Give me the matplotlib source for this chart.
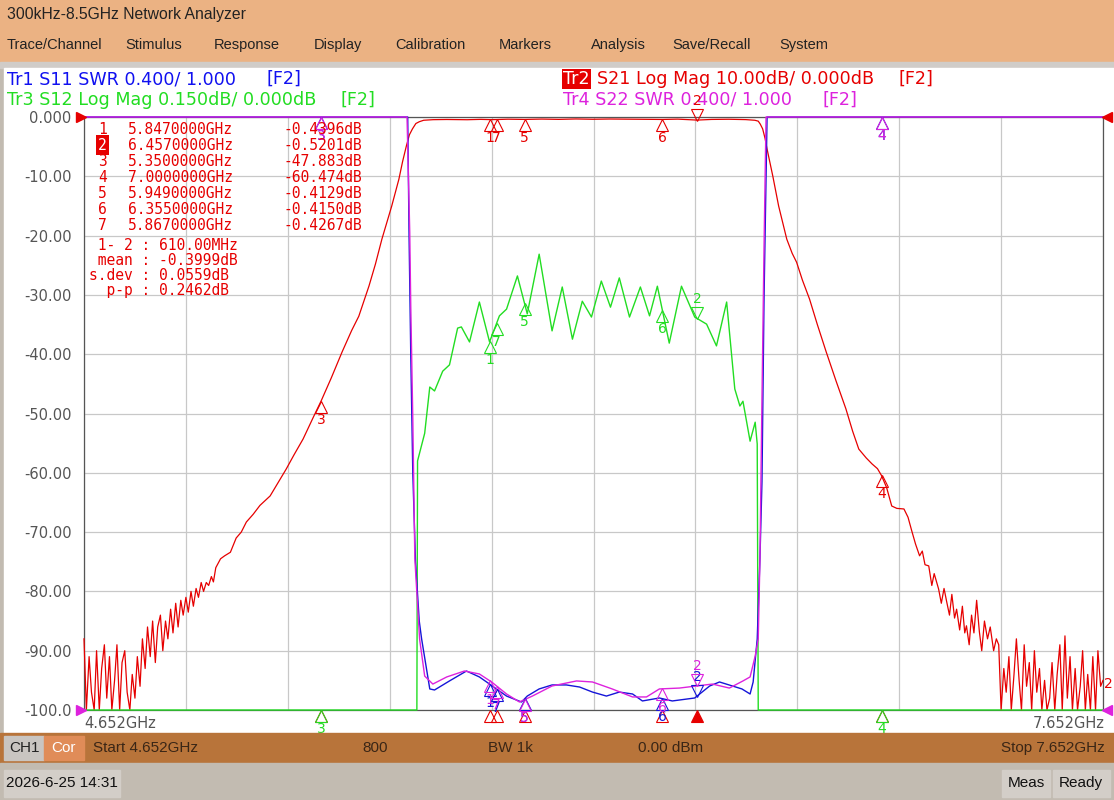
import numpy as np
import matplotlib
matplotlib.use('Agg')
import matplotlib.pyplot as plt
from matplotlib.patches import Rectangle
from matplotlib.transforms import offset_copy

W, H = 1114, 800

# ---- trace data (GHz) ----
s21_f = [4.652, 4.659, 4.667, 4.674, 4.682, 4.689, 4.697, 4.704, 4.712, 4.719,
         4.727, 4.734, 4.742, 4.749, 4.757, 4.764, 4.772, 4.779, 4.787, 4.794,
         4.802, 4.809, 4.817, 4.824, 4.832, 4.839, 4.847, 4.854, 4.862, 4.869,
         4.877, 4.884, 4.892, 4.899, 4.907, 4.914, 4.922, 4.929, 4.937, 4.944,
         4.952, 4.959, 4.967, 4.974, 4.982, 4.989, 4.997, 5.004, 5.012, 5.019,
         5.027, 5.033, 5.040, 5.054, 5.066, 5.083, 5.100, 5.115, 5.130, 5.150,
         5.170, 5.200, 5.225, 5.247, 5.270, 5.297, 5.329, 5.350, 5.380, 5.412,
         5.440, 5.461, 5.491, 5.510, 5.529, 5.545, 5.558, 5.579, 5.590, 5.601,
         5.610, 5.619, 5.629, 5.639, 5.652, 5.680, 5.720, 5.780, 5.820, 5.847,
         5.867, 5.900, 5.949, 6.000, 6.050, 6.100, 6.150, 6.200, 6.250, 6.300,
         6.355, 6.400, 6.457, 6.500, 6.550, 6.600, 6.627, 6.637, 6.643, 6.650,
         6.657, 6.663, 6.671, 6.680, 6.697, 6.721, 6.737, 6.750, 6.767, 6.788,
         6.811, 6.837, 6.866, 6.895, 6.915, 6.933, 6.955, 6.972, 6.988, 7.000,
         7.015, 7.030, 7.045, 7.066, 7.078, 7.089, 7.100, 7.112, 7.120, 7.128,
         7.139, 7.148, 7.155, 7.168, 7.176, 7.184, 7.192, 7.200, 7.207, 7.215,
         7.221, 7.230, 7.238, 7.245, 7.250, 7.258, 7.265, 7.272, 7.280, 7.288,
         7.295, 7.303, 7.312, 7.320, 7.330, 7.338, 7.345, 7.352, 7.360, 7.367,
         7.375, 7.382, 7.390, 7.397, 7.405, 7.412, 7.420, 7.427, 7.435, 7.442,
         7.450, 7.457, 7.465, 7.472, 7.480, 7.487, 7.495, 7.502, 7.510, 7.517,
         7.525, 7.532, 7.540, 7.547, 7.555, 7.562, 7.570, 7.577, 7.585, 7.592,
         7.600, 7.607, 7.615, 7.622, 7.630, 7.637, 7.645, 7.652]
s21_db = [-88, -100, -91, -97, -100, -90, -100, -93, -89, -98,
          -91, -100, -95, -89, -100, -92, -90, -97, -100, -94,
          -98, -91, -96, -88, -93, -86, -91, -85, -92, -86,
          -84, -90, -85, -88, -83, -87, -82, -86, -81.5, -84,
          -81, -83.5, -80, -82.5, -79.5, -81, -78.5, -80, -78.5, -79,
          -77.5, -78.4, -76, -74.5, -74, -73.4, -71, -70, -68.3, -67,
          -65.5, -63.9, -61.5, -59.4, -57, -54.3, -50.4, -47.9, -44, -39.6,
          -36, -33.6, -28.5, -24.8, -20.6, -17.5, -15, -10.5, -7.5, -4.9,
          -3, -2, -1.1, -0.8, -0.55, -0.45, -0.42, -0.46, -0.40, -0.44,
          -0.43, -0.37, -0.41, -0.35, -0.40, -0.33, -0.38, -0.34, -0.37, -0.40,
          -0.415, -0.36, -0.52, -0.41, -0.38, -0.44, -0.55, -0.7, -1.2, -2.0,
          -3.6, -5.4, -7.6, -10, -15, -20.6, -23, -24.5, -27.5, -30.7,
          -35, -39.6, -44.5, -49.2, -53, -56, -57.5, -58.5, -59.3, -60.47,
          -62.5, -65.6, -66, -66.1, -67.5, -69.8, -72, -74, -73.2, -75.5,
          -75.7, -79, -77, -79.6, -82, -79.5, -81.8, -84, -80.5, -84.5,
          -83, -86.5, -82.5, -87, -85.8, -89, -84, -87, -81.5, -86.8,
          -90, -85, -88, -86, -90, -88, -89, -100, -93, -97,
          -91, -100, -94, -88, -95, -100, -89, -96, -92, -100,
          -90, -97, -93, -100, -95, -100, -98, -92, -100, -94,
          -89, -100, -87.5, -98, -91, -100, -93, -100, -96, -90,
          -100, -94, -100, -91, -100, -90, -96, -95]

s12_f = [4.652, 5.632, 5.634, 5.655, 5.670, 5.684, 5.708, 5.728, 5.752, 5.763,
         5.787, 5.816, 5.846, 5.875, 5.896, 5.928, 5.957, 5.992, 6.030, 6.060,
         6.090, 6.119, 6.146, 6.175, 6.202, 6.228, 6.258, 6.290, 6.317, 6.340,
         6.375, 6.411, 6.450, 6.485, 6.514, 6.544, 6.568, 6.583, 6.592, 6.613,
         6.628, 6.634, 6.637, 7.652]
s12_db = [-1.5, -1.5, -0.87, -0.80, -0.683, -0.693, -0.643, -0.627, -0.534, -0.531,
          -0.569, -0.468, -0.569, -0.503, -0.486, -0.402, -0.498, -0.347, -0.541, -0.430,
          -0.562, -0.466, -0.506, -0.415, -0.481, -0.407, -0.506, -0.430, -0.503, -0.428,
          -0.572, -0.428, -0.506, -0.524, -0.579, -0.468, -0.688, -0.731, -0.719, -0.820,
          -0.772, -0.827, -1.5, -1.5]

s11_f = [4.652, 5.605, 5.609, 5.614, 5.620, 5.628, 5.639, 5.646, 5.670, 5.684,
         5.728, 5.778, 5.816, 5.846, 5.896, 5.940, 5.957, 5.992, 6.030, 6.072,
         6.111, 6.149, 6.190, 6.228, 6.267, 6.296, 6.346, 6.384, 6.450, 6.494,
         6.523, 6.561, 6.589, 6.613, 6.622, 6.634, 6.642, 6.648, 6.654, 6.663,
         7.652]
s11_swr = [5.0, 5.0, 4.2, 3.4, 2.6, 2.0, 1.6, 1.479, 1.142, 1.135,
           1.196, 1.263, 1.223, 1.175, 1.094, 1.054, 1.094, 1.142, 1.169, 1.169,
           1.155, 1.121, 1.094, 1.121, 1.108, 1.061, 1.081, 1.061, 1.081, 1.162,
           1.189, 1.162, 1.142, 1.108, 1.189, 1.479, 2.02, 2.54, 3.77, 5.0,
           5.0]

s22_f = [4.652, 5.603, 5.611, 5.614, 5.620, 5.626, 5.640, 5.655, 5.679, 5.720,
         5.772, 5.816, 5.852, 5.896, 5.934, 5.972, 6.030, 6.102, 6.149, 6.207,
         6.267, 6.308, 6.346, 6.405, 6.455, 6.502, 6.552, 6.592, 6.613, 6.628,
         6.637, 6.642, 6.648, 6.654, 6.660, 7.652]
s22_swr = [5.0, 5.0, 4.224, 3.725, 2.963, 2.02, 1.479, 1.229, 1.175, 1.223,
           1.263, 1.243, 1.189, 1.108, 1.054, 1.094, 1.162, 1.196, 1.189, 1.142,
           1.088, 1.088, 1.142, 1.148, 1.162, 1.175, 1.148, 1.196, 1.223, 1.364,
           1.479, 2.02, 3.10, 4.11, 5.0, 5.0]

# ---- markers ----
mk_names = ['1', '2', '3', '4', '5', '6', '7']
mk_freq = [5.847, 6.457, 5.350, 7.000, 5.949, 6.355, 5.867]
mk_freq_txt = ['5.8470000GHz', '6.4570000GHz', '5.3500000GHz', '7.0000000GHz',
               '5.9490000GHz', '6.3550000GHz', '5.8670000GHz']
mk_val = [-0.4396, -0.5201, -47.883, -60.474, -0.4129, -0.4150, -0.4267]
mk_val_txt = ['-0.4396dB', '-0.5201dB', '-47.883dB', '-60.474dB',
              '-0.4129dB', '-0.4150dB', '-0.4267dB']
stats_lines = [' 1- 2 : 610.00MHz', ' mean : -0.3999dB', 's.dev : 0.0559dB', '  p-p : 0.2462dB']

ytick_labels = ['-100.0', '-90.00', '-80.00', '-70.00', '-60.00', '-50.00',
                '-40.00', '-30.00', '-20.00', '-10.00', '0.000']
menu_items = ['Trace/Channel', 'Stimulus', 'Response', 'Display', 'Calibration',
              'Markers', 'Analysis', 'Save/Recall', 'System']
menu_x = [7, 125, 214, 314, 395, 499, 591, 672, 779]

f_start, f_stop = 4.652, 7.652

RED = '#E60000'
GREEN = '#22DD22'
BLUE = '#1515D8'
MAG = '#DD22DD'
GRAYTXT = '#555555'
PEACH = '#EBB283'
BROWN = '#B8743A'
UI = 'Liberation Sans'

# plot box in screen pixels
PX_L, PX_R, PX_T, PX_B = 84, 1103, 117, 710

fig = plt.figure(figsize=(W / 100, H / 100), dpi=100)

# background / window chrome in pixel coords
bg = fig.add_axes([0, 0, 1, 1])
bg.set_xlim(0, W)
bg.set_ylim(H, 0)
bg.axis('off')
bg.add_patch(Rectangle((0, 0), W, H, color='#C2BBB1'))
bg.add_patch(Rectangle((0, 0), W, 62, color=PEACH))
bg.add_patch(Rectangle((0, 62), W, 6, color='#D0CCC8'))
bg.add_patch(Rectangle((4, 68), W - 4, 666, color='white'))
bg.text(7, 15, '300kHz-8.5GHz Network Analyzer', fontsize=11.3, family=UI,
        color='#222222', va='center')
for name, x in zip(menu_items, menu_x):
    bg.text(x, 45, name, fontsize=10.5, family=UI, color='#222222', va='center')

# trace headers
hdr = dict(fontsize=12.6, family='DejaVu Sans', va='center')
bg.text(7, 79, 'Tr1 S11 SWR 0.400/ 1.000', color='#1010F0', **hdr)
bg.text(266, 79, '[F2]', color='#1010F0', **hdr)
bg.text(7, 100, 'Tr3 S12 Log Mag 0.150dB/ 0.000dB', color=GREEN, **hdr)
bg.text(341, 100, '[F2]', color=GREEN, **hdr)
bg.text(563, 79, 'Tr2', color='white', bbox=dict(fc=RED, ec='none', pad=1), **hdr)
bg.text(597, 79, 'S21 Log Mag 10.00dB/ 0.000dB', color=RED, **hdr)
bg.text(899, 79, '[F2]', color=RED, **hdr)
bg.text(563, 100, 'Tr4 S22 SWR 0.400/ 1.000', color=MAG, **hdr)
bg.text(822, 100, '[F2]', color=MAG, **hdr)

# x range labels
bg.text(84, 724, '4.652GHz', fontsize=10.5, color=GRAYTXT, va='center')
bg.text(1105, 724, '7.652GHz', fontsize=10.5, color=GRAYTXT, va='center', ha='right')

rect = [PX_L / W, (H - PX_B) / H, (PX_R - PX_L) / W, (PX_B - PX_T) / H]

ax = fig.add_axes(rect)
ax.set_xlim(f_start, f_stop)
ax.set_ylim(-100, 0)
ax.set_xticks(np.linspace(f_start, f_stop, 11))
ax.set_yticks(np.arange(-100, 1, 10))
ax.set_yticklabels(ytick_labels)
ax.tick_params(length=0, labelbottom=False, pad=9, labelsize=10.5, labelcolor=GRAYTXT)
ax.grid(True, color='#C8C8C8', lw=0.9)
for sp in ax.spines.values():
    sp.set_color('#555555')
    sp.set_linewidth(0.9)
ax.plot(s21_f, s21_db, color=RED, lw=0.9, clip_on=False, zorder=3)

ax_g = fig.add_axes(rect, facecolor='none')
ax_g.set_xlim(f_start, f_stop)
ax_g.set_ylim(-1.5, 0)
ax_g.axis('off')
ax_g.plot(s12_f, s12_db, color=GREEN, lw=1.0, clip_on=False)

ax_s = fig.add_axes(rect, facecolor='none')
ax_s.set_xlim(f_start, f_stop)
ax_s.set_ylim(1.0, 5.0)
ax_s.axis('off')
ax_s.plot(s11_f, s11_swr, color=BLUE, lw=1.0, clip_on=False)
ax_s.plot(s22_f, s22_swr, color=MAG, lw=1.0, clip_on=False)


def put_marker(axm, f, v, color, label, down=False, filled=False):
    ms = 8
    if down:
        tr = offset_copy(axm.transData, fig=fig, y=ms / 2, units='points')
        tt = offset_copy(axm.transData, fig=fig, y=ms + 1, units='points')
        m, va = 'v', 'bottom'
    else:
        tr = offset_copy(axm.transData, fig=fig, y=-ms / 2, units='points')
        tt = offset_copy(axm.transData, fig=fig, y=-ms - 0.5, units='points')
        m, va = '^', 'top'
    axm.plot([f], [v], ls='none', marker=m, ms=ms, mec=color, mew=0.8,
             mfc=color if filled else 'none', transform=tr, clip_on=False, zorder=6)
    if label:
        axm.text(f, v, label, color=color, fontsize=10, ha='center', va=va,
                 transform=tt, clip_on=False, zorder=6)


for name, f, v in zip(mk_names, mk_freq, mk_val):
    act = name == '2'
    # S21 markers on the red trace
    put_marker(ax, f, v, RED, name, down=act)
    # position ticks on the bottom line
    put_marker(ax, f, -100, RED, None, filled=act)
    # S12
    g = np.clip(np.interp(f, s12_f, s12_db), -1.5, 0)
    put_marker(ax_g, f, g, GREEN, name, down=act)
    # S11 / S22
    b = np.clip(np.interp(f, s11_f, s11_swr), 1, 5)
    put_marker(ax_s, f, b, BLUE, name, down=act)
    m = np.clip(np.interp(f, s22_f, s22_swr), 1, 5)
    put_marker(ax_s, f, m, MAG, name, down=act)

# reference level arrows
ax_s.plot([0], [1], transform=offset_copy(ax_s.transAxes, fig=fig, x=-3, units='dots'),
          marker='>', ms=7, color=RED, clip_on=False)
ax_s.plot([0], [0], transform=offset_copy(ax_s.transAxes, fig=fig, x=-3, units='dots'),
          marker='>', ms=7, color=MAG, clip_on=False)
ax_s.plot([1], [1], transform=offset_copy(ax_s.transAxes, fig=fig, x=4, units='dots'),
          marker='<', ms=7, color=RED, clip_on=False)
ax_s.plot([1], [0], transform=offset_copy(ax_s.transAxes, fig=fig, x=4, units='dots'),
          marker='<', ms=7, color=MAG, clip_on=False)

# marker table
ov = fig.add_axes([0, 0, 1, 1], facecolor='none')
ov.set_xlim(0, W)
ov.set_ylim(H, 0)
ov.axis('off')
tab = dict(fontsize=10.5, family='DejaVu Sans Mono', color=RED, va='center')
for i, (name, ft, vt) in enumerate(zip(mk_names, mk_freq_txt, mk_val_txt)):
    y = 129 + i * 16
    if name == '2':
        ov.text(98, y, name, bbox=dict(fc=RED, ec='none', pad=1.5),
                **{**tab, 'color': 'white'})
    else:
        ov.text(98, y, name, **tab)
    ov.text(128, y, ft, **tab)
    ov.text(362, y, vt, ha='right', **tab)
for i, s in enumerate(stats_lines):
    ov.text(89, 245 + i * 15.2, s, **tab)
ov.text(1104, 684, '2', color=RED, fontsize=10, va='center')

# status bars
ov.add_patch(Rectangle((0, 733), W, 30, color=BROWN))
ov.add_patch(Rectangle((0, 763), W, 37, color='#C2BBB1'))
ov.add_patch(Rectangle((4, 736), 40, 24, color='#C9C5C1'))
ov.add_patch(Rectangle((44, 736), 40, 24, color='#E08C58'))
sb = dict(fontsize=11, family=UI, va='center', color='#3A2616')
ov.text(24, 748, 'CH1', ha='center', **{**sb, 'color': '#222222'})
ov.text(64, 748, 'Cor', ha='center', **{**sb, 'color': 'white'})
ov.text(93, 748, 'Start 4.652GHz', **sb)
ov.text(375, 748, '800', ha='center', **sb)
ov.text(510, 748, 'BW 1k', ha='center', **sb)
ov.text(671, 748, '0.00 dBm', ha='center', **sb)
ov.text(1105, 748, 'Stop 7.652GHz', ha='right', **sb)
ov.add_patch(Rectangle((4, 770), 116, 27, color='#D3CEC8'))
ov.add_patch(Rectangle((1002, 770), 48, 27, color='#D3CEC8'))
ov.add_patch(Rectangle((1053, 770), 57, 27, color='#D3CEC8'))
ov.text(62, 783, '2026-6-25 14:31', ha='center', **{**sb, 'color': '#111111'})
ov.text(1026, 783, 'Meas', ha='center', **{**sb, 'color': '#111111'})
ov.text(1081, 783, 'Ready', ha='center', **{**sb, 'color': '#111111'})

fig.savefig('out.png', dpi=100)
